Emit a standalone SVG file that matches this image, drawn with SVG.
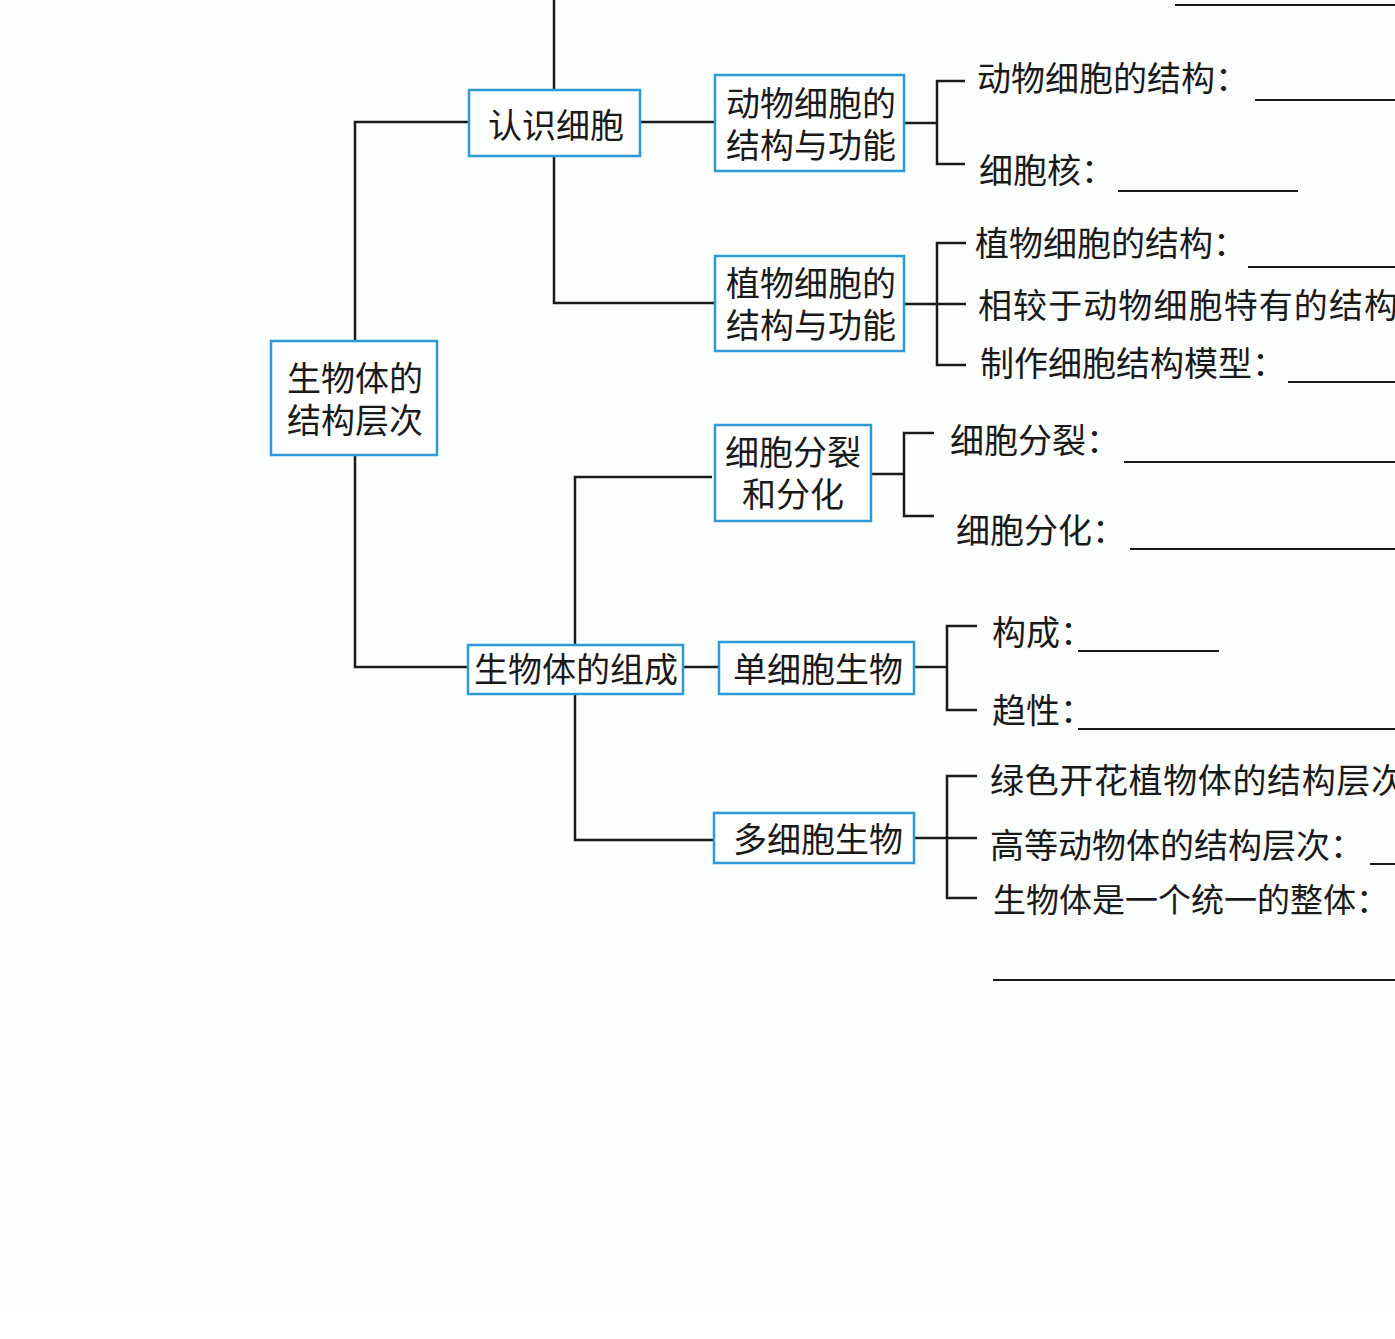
<svg xmlns="http://www.w3.org/2000/svg" width="1395" height="1339" viewBox="0 0 1395 1339">
<style>
.box{fill:#ffffff;stroke:#2b9ad6;stroke-width:2.5}
.ln{fill:none;stroke:#1a1a1a;stroke-width:2.5}
.ul{fill:none;stroke:#1a1a1a;stroke-width:2}
text{font-family:"Noto Sans CJK SC","Noto Sans CJK TC",sans-serif;font-size:34px;fill:#1a1a1a;dominant-baseline:central}
.c{text-anchor:middle}
</style>
<rect x="0" y="0" width="1395" height="1310" fill="#fcfdfd"/>
<rect x="0" y="1310" width="1395" height="29" fill="#ffffff"/>
<g id="connectors">
<path class="ln" d="M355,341 V122 H469"/>
<path class="ln" d="M554,0 V90"/>
<path class="ln" d="M554,156 V303 H715"/>
<path class="ln" d="M640,122 H715"/>
<path class="ln" d="M904,123 H937"/>
<path class="ln" d="M965,81 H937 V164 H965"/>
<path class="ln" d="M904,304 H966"/>
<path class="ln" d="M966,243 H937 V365 H966"/>
<path class="ln" d="M355,455 V667 H468"/>
<path class="ln" d="M575,645 V477 H712"/>
<path class="ln" d="M871,474 H904"/>
<path class="ln" d="M934,433 H904 V516 H934"/>
<path class="ln" d="M683,667 H719"/>
<path class="ln" d="M914,667 H947"/>
<path class="ln" d="M977,626 H947 V710 H977"/>
<path class="ln" d="M575,694 V840 H714"/>
<path class="ln" d="M914,838 H977"/>
<path class="ln" d="M977,776 H947 V898 H977"/>
</g>
<g id="underlines">
<path class="ul" d="M1175,5 H1395"/>
<path class="ul" d="M1255,100 H1395"/>
<path class="ul" d="M1118,191 H1298"/>
<path class="ul" d="M1248,267 H1395"/>
<path class="ul" d="M1288,382 H1395"/>
<path class="ul" d="M1124,462 H1395"/>
<path class="ul" d="M1130,549 H1395"/>
<path class="ul" d="M1078,651 H1219"/>
<path class="ul" d="M1078,729 H1395"/>
<path class="ul" d="M1370,864 H1395"/>
<path class="ul" d="M993,980 H1395"/>
</g>
<g id="root">
<rect class="box" x="271" y="341" width="166" height="114"/>
<text class="c" x="355" y="376">生物体的</text>
<text class="c" x="355" y="418">结构层次</text>
</g>
<g id="renshi">
<rect class="box" x="469" y="90" width="171" height="66"/>
<text class="c" x="556" y="123">认识细胞</text>
</g>
<g id="dongwu">
<rect class="box" x="715" y="75" width="189" height="96"/>
<text class="c" x="811" y="101">动物细胞的</text>
<text class="c" x="811" y="143">结构与功能</text>
</g>
<g id="zhiwu">
<rect class="box" x="715" y="256" width="189" height="95"/>
<text class="c" x="811" y="281">植物细胞的</text>
<text class="c" x="811" y="323">结构与功能</text>
</g>
<g id="fenlie">
<rect class="box" x="715" y="425" width="156" height="96"/>
<text class="c" x="793" y="450">细胞分裂</text>
<text class="c" x="793" y="492">和分化</text>
</g>
<g id="zucheng">
<rect class="box" x="468" y="645" width="215" height="49"/>
<text class="c" x="576" y="667">生物体的组成</text>
</g>
<g id="danxibao">
<rect class="box" x="719" y="642" width="195" height="52"/>
<text class="c" x="818" y="667">单细胞生物</text>
</g>
<g id="duoxibao">
<rect class="box" x="714" y="813" width="200" height="50"/>
<text class="c" x="818" y="837">多细胞生物</text>
</g>
<g id="labels">
<text x="977" y="76">动物细胞的结构：</text>
<text x="979" y="168">细胞核：</text>
<text x="975" y="241">植物细胞的结构：</text>
<text x="978" y="303" textLength="420">相较于动物细胞特有的结构</text>
<text x="980" y="361">制作细胞结构模型：</text>
<text x="950" y="438">细胞分裂：</text>
<text x="956" y="528">细胞分化：</text>
<text x="992" y="630">构成：</text>
<text x="992" y="708">趋性：</text>
<text x="990" y="778" textLength="415">绿色开花植物体的结构层次</text>
<text x="990" y="843">高等动物体的结构层次：</text>
<text x="993" y="898" style="font-size:33px">生物体是一个统一的整体：</text>
</g>
</svg>
